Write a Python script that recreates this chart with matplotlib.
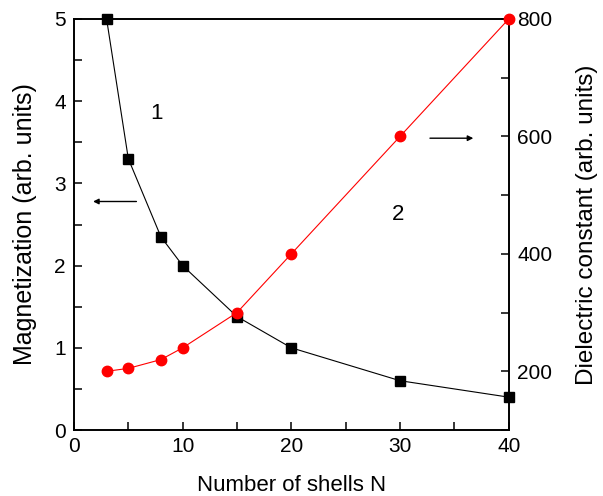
import matplotlib
matplotlib.use("Agg")
import matplotlib.pyplot as plt
from matplotlib.ticker import MultipleLocator

plt.rcParams['font.family'] = ['Liberation Sans', 'DejaVu Sans']

shells = [3, 5, 8, 10, 15, 20, 30, 40]
magnetization = [5.0, 3.3, 2.35, 2.0, 1.38, 1.0, 0.6, 0.4]
dielectric = [200, 205, 220, 240, 300, 400, 600, 800]

fig = plt.figure(figsize=(6.03, 4.96), dpi=100)
ax = fig.add_axes([0.1227, 0.133, 0.7209, 0.8287])
ax2 = ax.twinx()

ax.plot(shells, magnetization, color='black', lw=0.8, marker='s', ms=6.5, clip_on=False, zorder=3)
ax2.plot(shells, dielectric, color='red', lw=0.8, marker='o', ms=7.5, clip_on=False, zorder=3)

ax.set_xlim(0, 40)
ax.set_ylim(0, 5)
ax2.set_ylim(100, 800)

ax.xaxis.set_major_locator(MultipleLocator(10))
ax.xaxis.set_minor_locator(MultipleLocator(5))
ax.yaxis.set_major_locator(MultipleLocator(1))
ax.yaxis.set_minor_locator(MultipleLocator(0.5))
ax2.yaxis.set_major_locator(MultipleLocator(200))
ax2.yaxis.set_minor_locator(MultipleLocator(100))

for a in (ax, ax2):
    a.tick_params(which='both', direction='in', length=6, width=1.1, pad=6)
    a.tick_params(top=False, which='both')
    a.tick_params(axis='y', labelsize=15)
    for s in a.spines.values():
        s.set_linewidth(1.2)
ax.tick_params(axis='x', labelsize=15, pad=5)
ax.tick_params(right=False, which='both')
ax2.tick_params(left=False, which='both')

ax.set_xlabel('Number of shells N', fontsize=16, va='center')
ax.set_ylabel('Magnetization (arb. units)', fontsize=18, va='center')
ax2.set_ylabel('Dielectric constant (arb. units)', fontsize=17.5, va='center')
ax.xaxis.set_label_coords(0.5, -0.134)
ax.yaxis.set_label_coords(-0.113, 0.5)
ax2.yaxis.set_label_coords(1.18, 0.5)

ax.text(7.6, 3.85, '1', fontsize=16, ha='center', va='center')
ax.text(29.8, 2.62, '2', fontsize=16, ha='center', va='center')

ax.annotate('', xy=(1.5, 2.78), xytext=(6, 2.78),
            arrowprops=dict(arrowstyle='-|>', color='black', lw=1, mutation_scale=8))
ax.annotate('', xy=(37, 3.55), xytext=(32.5, 3.55),
            arrowprops=dict(arrowstyle='-|>', color='black', lw=1, mutation_scale=8))

fig.savefig('out.png', dpi=100)
